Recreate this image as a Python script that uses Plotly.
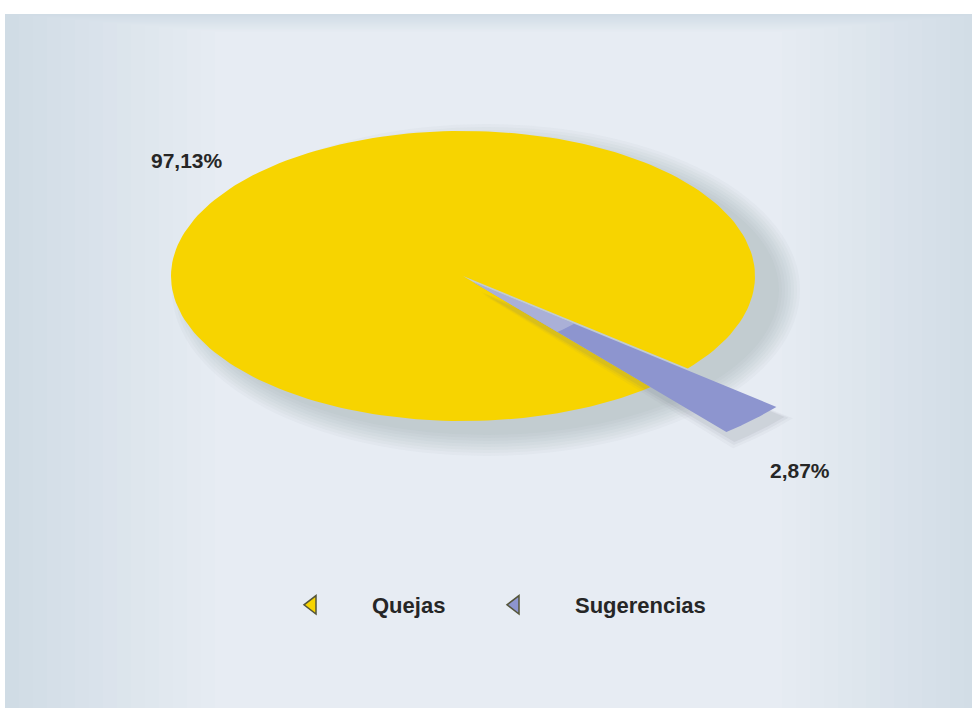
import numpy as np
import plotly.graph_objects as go

# ---- data ----
categories = ["Quejas", "Sugerencias"]
values = [97.13, 2.87]
labels = ["97,13%", "2,87%"]
colors = ["#F7D400", "#8D95CF"]

# ---- layout / style constants (pixel space) ----
W, H = 972, 708
CX, CY = 463, 276          # ellipse centre
RA, RB = 292, 145          # ellipse radii
START = 50.0               # start angle of first slice (deg, clockwise from east)
EXPLODE = [(0, 0), (10, 6)]
SCALE = [1.0, 1.35]
FONT = "Liberation Sans, Arial, sans-serif"
LEGEND_X = [252, 455]      # left edge (px) of each legend entry
LEGEND_Y = 605

fig = go.Figure()

# background panel with soft gradient (solid interpolated layers)
edge = np.array([208, 220, 229])
centre = np.array([231, 236, 243])
N = 16
for i in range(N):
    f = i / (N - 1)
    c = edge + (centre - edge) * f
    ix = i * 14
    iy = i * 1.2
    fig.add_shape(type="rect", x0=5 + ix, y0=14 + iy, x1=W - ix + 20, y1=H + 100,
                  line_width=0, fillcolor="rgb(%d,%d,%d)" % tuple(c.round()),
                  layer="below")

# soft shadow under the pie (offset to lower right)
for d in range(0, 24, 3):
    fig.add_shape(type="circle", x0=CX - RA + 22 - d, x1=CX + RA + 24 + d,
                  y0=CY - RB + 14 - d, y1=CY + RB + 14 + d,
                  line_width=0, fillcolor="rgba(120,128,140,0.045)", layer="below")


def wedge(a0, span, ox, oy, s):
    t = np.radians(np.linspace(a0, a0 + span, 200))
    xs = np.concatenate([[CX + ox], CX + ox + s * RA * np.cos(t), [CX + ox]])
    ys = np.concatenate([[CY + oy], CY + oy + s * RB * np.sin(t), [CY + oy]])
    return xs, ys


total = sum(values)
ang = START
for k, (cat, v, col) in enumerate(zip(categories, values, colors)):
    span = 360.0 * v / total
    ox, oy = EXPLODE[k]
    s = SCALE[k]
    if k == 1:
        # soft shadow of the exploded wedge
        for j, op in enumerate([0.10, 0.07, 0.05]):
            sx, sy = wedge(ang - 0.5 * j, span + 1.0 * j, ox + 8 + 2 * j, oy + 10 + 2 * j, s)
            fig.add_trace(go.Scatter(x=sx, y=sy, mode="lines", fill="toself",
                                     fillcolor="rgba(110,118,130,%.2f)" % op,
                                     line=dict(width=0), hoverinfo="skip", showlegend=False))
    xs, ys = wedge(ang, span, ox, oy, s)
    fig.add_trace(go.Scatter(x=xs, y=ys, mode="lines", fill="toself",
                             fillcolor=col, line=dict(width=0, color=col),
                             hoverinfo="skip", showlegend=False, name=cat))
    if k == 1:
        # lighter inner part of the exploded wedge (3D side-face look)
        xs2, ys2 = wedge(ang, span, ox, oy, 0.45)
        fig.add_trace(go.Scatter(x=xs2, y=ys2, mode="lines", fill="toself",
                                 fillcolor="rgba(200,203,224,0.5)", line=dict(width=0),
                                 hoverinfo="skip", showlegend=False))
    ang += span

# legend entries (one legend per entry to control spacing)
legend_names = ["legend", "legend2"]
for cat, col, lg in zip(categories, colors, legend_names):
    fig.add_trace(go.Scatter(x=[None], y=[None], mode="markers", name="<b>%s</b>" % cat,
                             legend=lg,
                             marker=dict(symbol="triangle-left", size=16, color=col,
                                         line=dict(color="#55553a", width=1.5))))

# percentage labels
fig.add_annotation(x=187, y=160, text="<b>%s</b>" % labels[0], showarrow=False,
                   font=dict(size=21, color="#262626", family=FONT))
fig.add_annotation(x=800, y=470, text="<b>%s</b>" % labels[1], showarrow=False,
                   font=dict(size=21, color="#262626", family=FONT))

legend_style = dict(orientation="h", xanchor="left", y=1 - LEGEND_Y / H, yanchor="middle",
                    bgcolor="rgba(0,0,0,0)", itemsizing="trace", itemwidth=110,
                    font=dict(size=22, color="#262626", family=FONT))

fig.update_layout(
    width=W, height=H, autosize=False,
    margin=dict(l=0, r=0, t=0, b=0),
    paper_bgcolor="white", plot_bgcolor="rgba(0,0,0,0)",
    xaxis=dict(range=[0, W], visible=False, fixedrange=True),
    yaxis=dict(range=[H, 0], visible=False, fixedrange=True),
    legend=dict(x=LEGEND_X[0] / W, **legend_style),
    legend2=dict(x=LEGEND_X[1] / W, **legend_style),
    showlegend=True,
)

fig.write_html("out.html")
